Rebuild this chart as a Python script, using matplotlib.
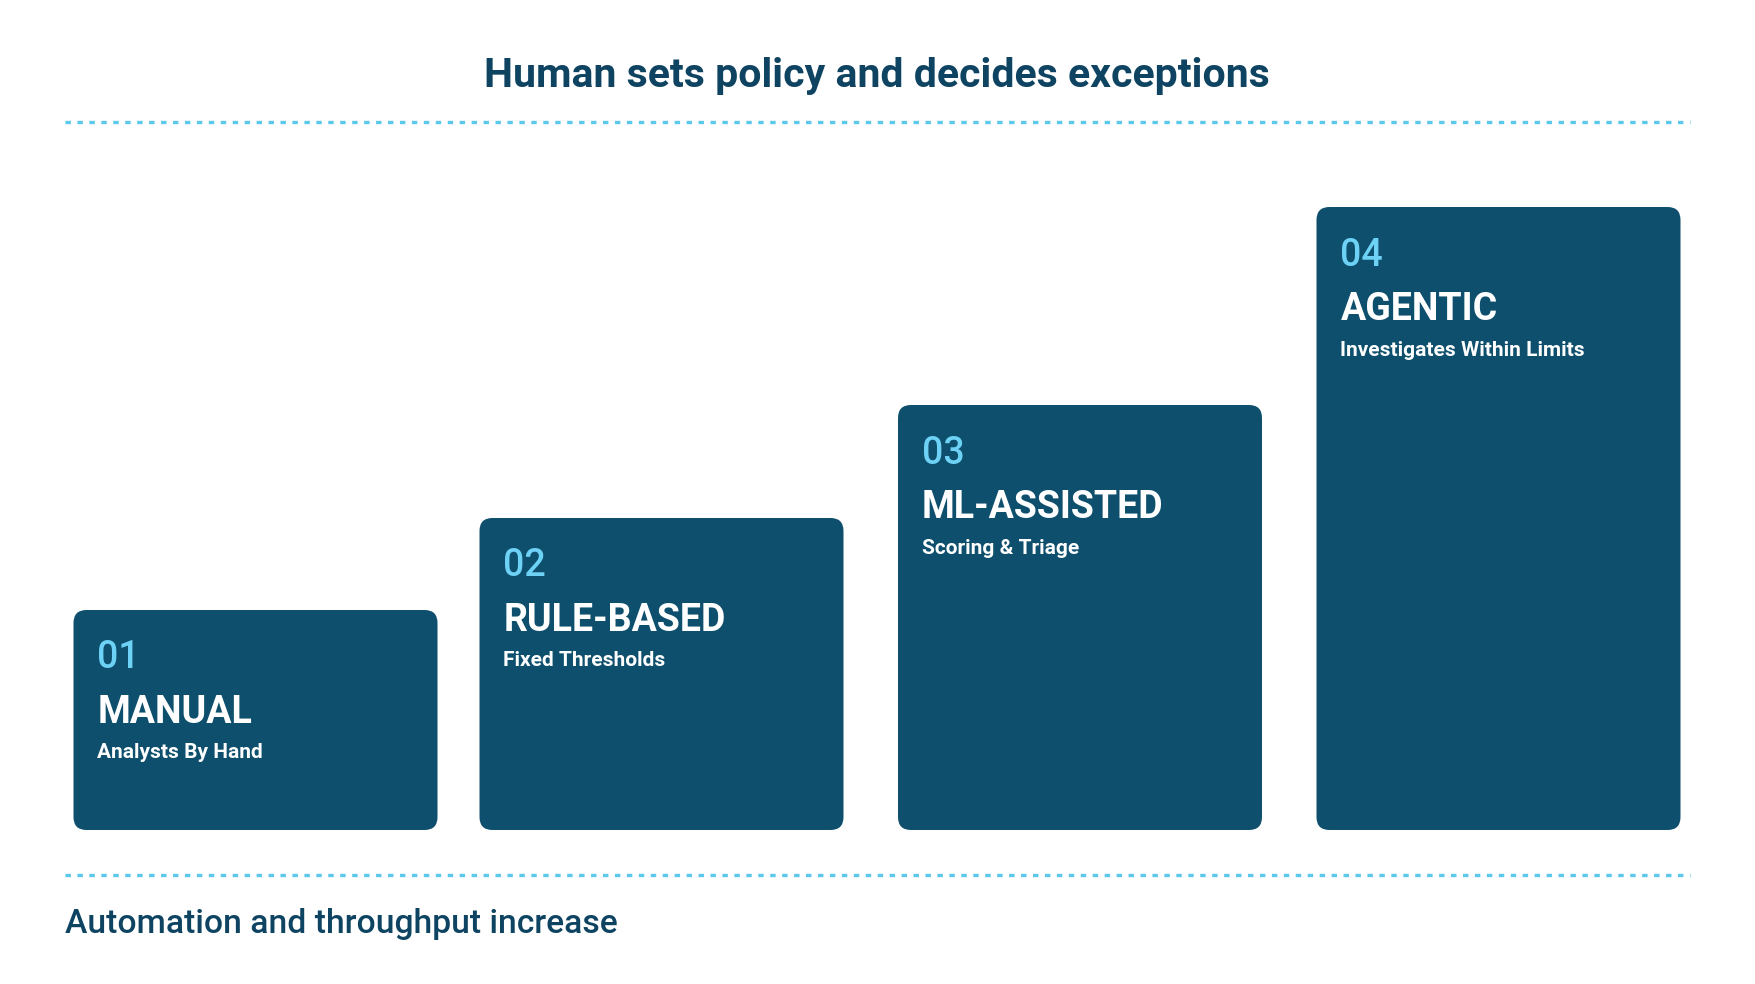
import matplotlib
matplotlib.use("Agg")
import matplotlib.pyplot as plt
from matplotlib.patches import FancyBboxPatch

# stage data
numbers = ["01", "02", "03", "04"]
stages = ["MANUAL", "RULE-BASED", "ML-ASSISTED", "AGENTIC"]
subtitles = ["Analysts By Hand", "Fixed Thresholds", "Scoring & Triage", "Investigates Within Limits"]
levels = [220, 312, 425, 623]  # box heights (px)

title = "Human sets policy and decides exceptions"
footer = "Automation and throughput increase"

box_color = "#0D4F6C"
num_color = "#6DD2F5"
navy = "#0E4462"
dot_color = "#5CC8EC"

plt.rcParams["font.family"] = ["Roboto", "DejaVu Sans"]
plt.rcParams["lines.scale_dashes"] = False

W, H = 1755, 984
fig = plt.figure(figsize=(W / 100, H / 100), dpi=100)
ax = fig.add_axes([0, 0, 1, 1])
ax.set_xlim(0, W)
ax.set_ylim(H, 0)
ax.axis("off")

# header / footer
ax.text(877, 87.3, title, ha="center", va="baseline", fontsize=29.5,
        fontweight="bold", color=navy)
ax.text(65, 932.7, footer, ha="left", va="baseline", fontsize=24.2,
        fontweight="medium", color=navy)

for yy in [122, 874.5]:
    ax.plot([65, 1690], [yy, yy], color=dot_color, lw=2.4,
            linestyle=(0, (3.9, 4.7)), dash_capstyle="butt")

# boxes
lefts = [73.5, 479.5, 898, 1316.5]
box_w = 364
base = 830
for i in range(len(stages)):
    top = base - levels[i]
    ax.add_patch(FancyBboxPatch((lefts[i], top), box_w, levels[i],
                                boxstyle="round,pad=0,rounding_size=13",
                                facecolor=box_color, edgecolor="none"))
    tx = lefts[i] + 24
    ax.text(tx, top + 58.5, numbers[i], ha="left", va="baseline",
            fontsize=27, fontweight="medium", color=num_color)
    ax.text(tx, top + 112.7, stages[i], ha="left", va="baseline",
            fontsize=27, fontweight="bold", color="white")
    ax.text(tx, top + 148.5, subtitles[i], ha="left", va="baseline",
            fontsize=15.0, fontweight="semibold", color="white")

fig.savefig("out.png", dpi=100, facecolor="white")
